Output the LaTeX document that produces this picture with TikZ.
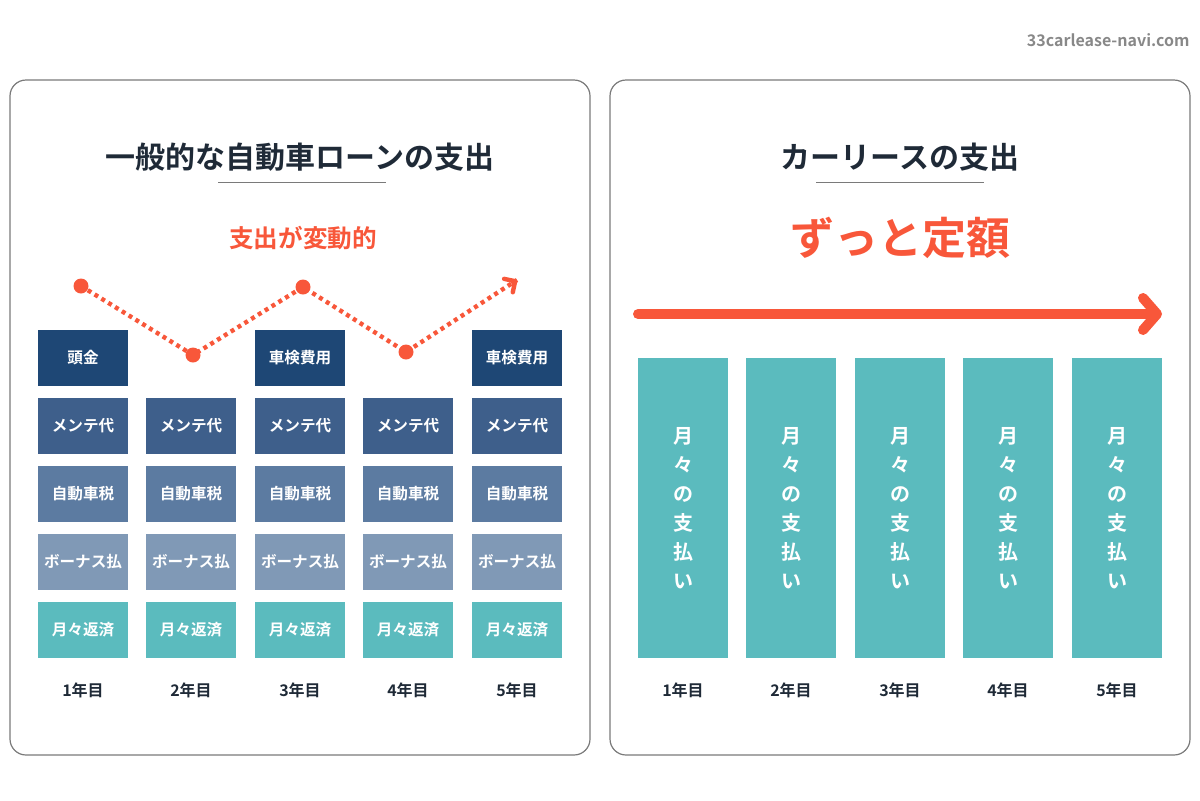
\documentclass[tikz,border=0pt]{standalone}
\usepackage{fontspec}
\setmainfont{Noto Sans CJK JP}[BoldFont={* Bold}]
\usetikzlibrary{arrows.meta,calc}
\definecolor{ink}{HTML}{1F2A37}
\definecolor{accent}{HTML}{F8573A}
\definecolor{navy}{HTML}{1E4775}
\definecolor{mid}{HTML}{3E5F8B}
\definecolor{steel}{HTML}{5C7BA1}
\definecolor{pale}{HTML}{8099B6}
\definecolor{teal}{HTML}{5BBBBE}
\definecolor{frame}{HTML}{7A7A7A}
\definecolor{wm}{HTML}{888888}
\tikzset{
  panel/.style={draw=frame, line width=0.6pt, rounded corners=8pt},
  cell/.style={minimum width=45pt, minimum height=28pt, inner sep=0pt, text=white, font=\bfseries\fontsize{7.8}{9}\selectfont},
  yearlbl/.style={text=ink, font=\bfseries\fontsize{8}{9}\selectfont},
  titlelbl/.style={text=ink, font=\bfseries\fontsize{15}{18}\selectfont},
  rule/.style={draw=frame, line width=0.5pt},
  dotline/.style={draw=accent, line width=2.2pt, dash pattern=on 2pt off 2pt},
  dot/.style={circle, fill=accent, minimum size=7.5pt, inner sep=0pt},
  tallbar/.style={fill=teal, minimum width=45pt, minimum height=150pt, inner sep=0pt, text=white, align=center, font=\bfseries\fontsize{10}{14.5}\selectfont}
}
\begin{document}
\begin{tikzpicture}[x=0.5pt,y=-0.5pt]
\useasboundingbox (0,0) rectangle (1200,800);
\node[anchor=east, inner sep=0pt, text=wm, font=\bfseries\fontsize{8}{9}\selectfont] (wm) at (1190,40) {33carlease-navi.com};
% panels
\draw[panel] (10,80) rectangle (590,755);
\draw[panel] (610,80) rectangle (1190,755);
% titles
\node[titlelbl] (t1) at (300,157) {一般的な自動車ローンの支出};
\draw[rule] (218,182) -- (386,182);
\node[titlelbl] (t2) at (900,157) {カーリースの支出};
\draw[rule] (816,182) -- (984,182);
\node[text=accent, font=\bfseries\fontsize{12.3}{14}\selectfont] (s1) at (303,238) {支出が変動的};
\node[text=accent, font=\bfseries\fontsize{22}{26}\selectfont] (s2) at (900,238) {ずっと定額};
% dotted line
\node[dot] (d1) at (81,286) {};
\node[dot] (d2) at (193,355) {};
\node[dot] (d3) at (303,287) {};
\node[dot] (d4) at (406,352) {};
\coordinate (d5) at (517,280);
\draw[dotline] (d1.center) -- (d2.center) -- (d3.center) -- (d4.center) -- (d5);
\draw[draw=accent, line width=2.2pt, -{Straight Barb[length=4pt, width=8pt, line cap=round, line join=round]}] ($(d5)!0.05!(d4.center)$) -- (d5);
% left boxes
\foreach \i/\x in {1/83,2/191,3/300,4/408,5/517}{
  \node[cell, fill=mid] (m\i) at (\x,426) {メンテ代};
  \node[cell, fill=steel] (j\i) at (\x,494) {自動車税};
  \node[cell, fill=pale] (b\i) at (\x,562) {ボーナス払};
  \node[cell, fill=teal] (r\i) at (\x,630) {月々返済};
  \node[yearlbl] (y\i) at (\x,690) {\i 年目};
}
\node[cell, fill=navy] (h1) at (83,358) {頭金};
\node[cell, fill=navy] (h3) at (300,358) {車検費用};
\node[cell, fill=navy] (h5) at (517,358) {車検費用};
% right
\coordinate (a1) at (638,314);
\coordinate (a2) at (1162,314);
\draw[draw=accent, line width=5pt, line cap=round, -{Straight Barb[length=7pt, width=16pt, line cap=round, line join=round]}] (a1) -- (a2);
\foreach \i/\x in {1/683,2/791,3/900,4/1008,5/1117}{
  \node[tallbar] (c\i) at (\x,508) {月\\々\\の\\支\\払\\い};
  \node[yearlbl] (z\i) at (\x,690) {\i 年目};
}
\end{tikzpicture}
\end{document}
